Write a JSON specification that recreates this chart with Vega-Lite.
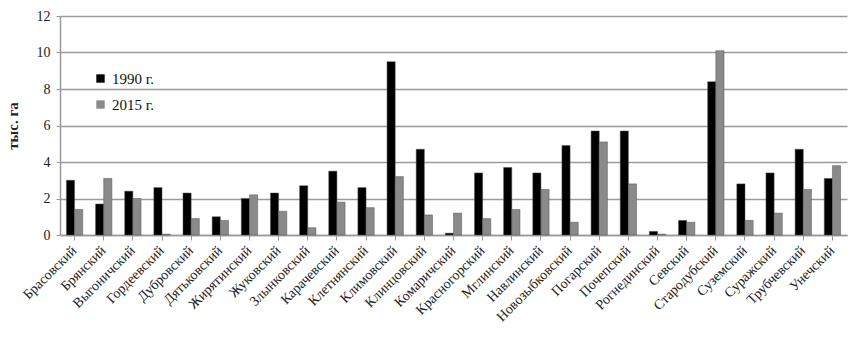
{
  "$schema": "https://vega.github.io/schema/vega-lite/v6.json",
  "autosize": {"type": "none"},
  "padding": {"left": 60, "top": 16, "right": 20, "bottom": 104},
  "width": 787,
  "height": 219,
  "background": "white",
  "config": {
    "font": "Liberation Serif",
    "view": {"stroke": null}
  },
  "data": {
    "values": [
      {"district": "Брасовский", "year": "1990 г.", "value": 3.0},
      {"district": "Брасовский", "year": "2015 г.", "value": 1.4},
      {"district": "Брянский", "year": "1990 г.", "value": 1.7},
      {"district": "Брянский", "year": "2015 г.", "value": 3.1},
      {"district": "Выгоничский", "year": "1990 г.", "value": 2.4},
      {"district": "Выгоничский", "year": "2015 г.", "value": 2.0},
      {"district": "Гордеевский", "year": "1990 г.", "value": 2.6},
      {"district": "Гордеевский", "year": "2015 г.", "value": 0.05},
      {"district": "Дубровский", "year": "1990 г.", "value": 2.3},
      {"district": "Дубровский", "year": "2015 г.", "value": 0.9},
      {"district": "Дятьковский", "year": "1990 г.", "value": 1.0},
      {"district": "Дятьковский", "year": "2015 г.", "value": 0.8},
      {"district": "Жирятинский", "year": "1990 г.", "value": 2.0},
      {"district": "Жирятинский", "year": "2015 г.", "value": 2.2},
      {"district": "Жуковский", "year": "1990 г.", "value": 2.3},
      {"district": "Жуковский", "year": "2015 г.", "value": 1.3},
      {"district": "Злынковский", "year": "1990 г.", "value": 2.7},
      {"district": "Злынковский", "year": "2015 г.", "value": 0.4},
      {"district": "Карачевский", "year": "1990 г.", "value": 3.5},
      {"district": "Карачевский", "year": "2015 г.", "value": 1.8},
      {"district": "Клетнянский", "year": "1990 г.", "value": 2.6},
      {"district": "Клетнянский", "year": "2015 г.", "value": 1.5},
      {"district": "Климовский", "year": "1990 г.", "value": 9.5},
      {"district": "Климовский", "year": "2015 г.", "value": 3.2},
      {"district": "Клинцовский", "year": "1990 г.", "value": 4.7},
      {"district": "Клинцовский", "year": "2015 г.", "value": 1.1},
      {"district": "Комаричский", "year": "1990 г.", "value": 0.1},
      {"district": "Комаричский", "year": "2015 г.", "value": 1.2},
      {"district": "Красногорский", "year": "1990 г.", "value": 3.4},
      {"district": "Красногорский", "year": "2015 г.", "value": 0.9},
      {"district": "Мглинский", "year": "1990 г.", "value": 3.7},
      {"district": "Мглинский", "year": "2015 г.", "value": 1.4},
      {"district": "Навлинский", "year": "1990 г.", "value": 3.4},
      {"district": "Навлинский", "year": "2015 г.", "value": 2.5},
      {"district": "Новозыбковский", "year": "1990 г.", "value": 4.9},
      {"district": "Новозыбковский", "year": "2015 г.", "value": 0.7},
      {"district": "Погарский", "year": "1990 г.", "value": 5.7},
      {"district": "Погарский", "year": "2015 г.", "value": 5.1},
      {"district": "Почепский", "year": "1990 г.", "value": 5.7},
      {"district": "Почепский", "year": "2015 г.", "value": 2.8},
      {"district": "Рогнединский", "year": "1990 г.", "value": 0.2},
      {"district": "Рогнединский", "year": "2015 г.", "value": 0.05},
      {"district": "Севский", "year": "1990 г.", "value": 0.8},
      {"district": "Севский", "year": "2015 г.", "value": 0.7},
      {"district": "Стародубский", "year": "1990 г.", "value": 8.4},
      {"district": "Стародубский", "year": "2015 г.", "value": 10.1},
      {"district": "Суземский", "year": "1990 г.", "value": 2.8},
      {"district": "Суземский", "year": "2015 г.", "value": 0.8},
      {"district": "Суражский", "year": "1990 г.", "value": 3.4},
      {"district": "Суражский", "year": "2015 г.", "value": 1.2},
      {"district": "Трубчевский", "year": "1990 г.", "value": 4.7},
      {"district": "Трубчевский", "year": "2015 г.", "value": 2.5},
      {"district": "Унечский", "year": "1990 г.", "value": 3.1},
      {"district": "Унечский", "year": "2015 г.", "value": 3.8}
    ]
  },
  "mark": {"type": "bar", "stroke": "#555555", "strokeWidth": 0.5},
  "encoding": {
    "x": {
      "field": "district",
      "type": "nominal",
      "sort": null,
      "scale": {"paddingInner": 0.44, "paddingOuter": 0.22},
      "axis": {
        "title": null,
        "labelAngle": -45,
        "labelAlign": "right",
        "labelBaseline": "middle",
        "labelFontSize": 14,
        "labelColor": "#222222",
        "labelPadding": 8,
        "domainColor": "#999999",
        "domainWidth": 1.5,
        "tickColor": "#999999",
        "tickSize": 5,
        "grid": false
      }
    },
    "xOffset": {"field": "year", "type": "nominal"},
    "y": {
      "field": "value",
      "type": "quantitative",
      "scale": {"domain": [0, 12]},
      "axis": {
        "title": "тыс. га",
        "titleFontSize": 15,
        "titleFontWeight": "bold",
        "titleColor": "#222222",
        "titlePadding": 16,
        "values": [0, 2, 4, 6, 8, 10, 12],
        "labelFontSize": 14,
        "labelColor": "#222222",
        "labelPadding": 6,
        "domainColor": "#999999",
        "domainWidth": 1.5,
        "tickColor": "#999999",
        "tickSize": 4,
        "grid": true,
        "gridColor": "#9a9a9a",
        "gridWidth": 1.5
      }
    },
    "color": {
      "field": "year",
      "type": "nominal",
      "scale": {"domain": ["1990 г.", "2015 г."], "range": ["#000000", "#8a8a8a"]},
      "legend": {
        "title": null,
        "orient": "none",
        "legendX": 33,
        "legendY": 55,
        "symbolType": "square",
        "symbolSize": 70,
        "symbolStrokeWidth": 0,
        "labelFontSize": 15,
        "labelColor": "#111111",
        "rowPadding": 10
      }
    }
  }
}
